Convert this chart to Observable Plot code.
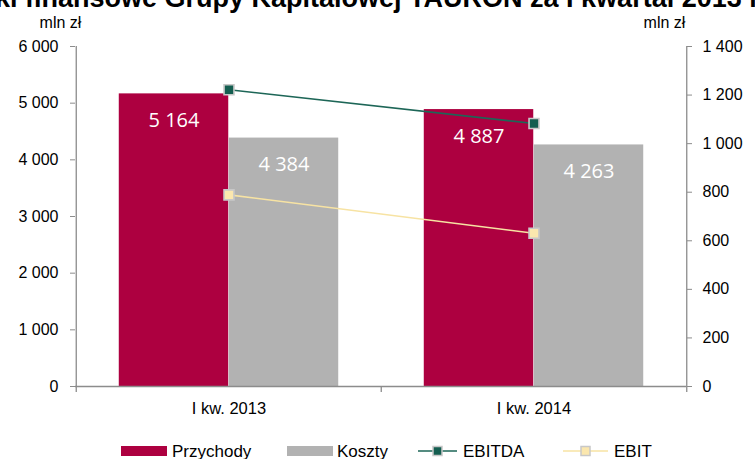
<!DOCTYPE html>
<html><head><meta charset="utf-8">
<script src="https://cdn.jsdelivr.net/npm/d3@7"></script>
<script src="https://cdn.jsdelivr.net/npm/@observablehq/plot@0.6"></script>
<style>
html,body{margin:0;padding:0;background:#fff;width:755px;height:459px;overflow:hidden;}
#wrap{position:relative;width:755px;height:459px;overflow:hidden;font-family:'Liberation Sans',Arial,sans-serif;}
#title{position:absolute;top:-15px;left:0;white-space:nowrap;font:bold 27px 'Liberation Sans',Arial,sans-serif;line-height:27px;color:#000;}
#chart{position:absolute;left:0;top:0;}
.leg{position:absolute;top:443px;font-size:17px;line-height:18px;white-space:nowrap;color:#000;}
.sw{position:absolute;top:446px;height:10px;width:46px;}
.ls{position:absolute;top:444px;}
</style></head><body>
<div id="wrap">
<div id="chart"></div>
<div id="title"><span id="hid">Wyni</span>ki finansowe Grupy Kapitałowej TAURON za I kwartał 2013 i 2014 r.</div>
<div id="legend"></div>
</div>
<script>
// ---- data ----
const categories = ["I kw. 2013", "I kw. 2014"];
const przychody = [5164, 4887];
const koszty = [4384, 4263];
const ebitda = [1222, 1083];
const ebit = [789, 631];
const leftTicks = [0, 1000, 2000, 3000, 4000, 5000, 6000];
const rightTicks = [0, 200, 400, 600, 800, 1000, 1200, 1400];
const seriesNames = ["Przychody", "Koszty", "EBITDA", "EBIT"];
const unitLabel = "mln zł";
const leftMax = 6000, rightMax = 1400;

// ---- styles ----
const C_PRZ = "#ad0040", C_KOS = "#b2b2b2", C_EBITDA = "#145e50", C_EBITDA_LINE = "#1d6657",
      C_EBIT = "#fbe7ae", C_EBIT_LINE = "#f7e3a3", C_MARK_STROKE = "#c8c8c8", C_AXIS = "#8c8c8c";
const W = 755, H = 430, mL = 75, mR = 69, mT = 46, mB = 44;
const FS = 16;
const plotH = H - mT - mB;
const bw = (W - mL - mR) / categories.length;
const barW = bw * 0.36;
const k = leftMax / rightMax;

const locale = d3.formatLocale({decimal: ",", thousands: "\u00a0", grouping: [3], currency: ["", ""]});
const fmt = locale.format(",d");

const rows = categories.map((c, i) => ({c, prz: przychody[i], kos: koszty[i], ebitda: ebitda[i], ebit: ebit[i]}));

const chart = Plot.plot({
  width: W, height: H,
  marginLeft: mL, marginRight: mR, marginTop: mT, marginBottom: mB,
  style: {fontFamily: "'Liberation Sans', Arial, sans-serif", fontSize: FS + "px", color: "#000", background: "#fff"},
  x: {type: "band", domain: categories, padding: 0},
  y: {domain: [0, leftMax]},
  marks: [
    Plot.barY(rows, {x: "c", y: "prz", fill: C_PRZ, insetLeft: bw / 2 - barW, insetRight: bw / 2}),
    Plot.barY(rows, {x: "c", y: "kos", fill: C_KOS, insetLeft: bw / 2, insetRight: bw / 2 - barW}),
    Plot.text(rows, {x: "c", y: "prz", text: d => fmt(d.prz), dx: -barW / 2, dy: 27, fill: "#fff",
      fontFamily: "'Open Sans', sans-serif", fontSize: 20}),
    Plot.text(rows, {x: "c", y: "kos", text: d => fmt(d.kos), dx: barW / 2, dy: 27, fill: "#fff",
      fontFamily: "'Open Sans', sans-serif", fontSize: 20}),
    // axis lines
    Plot.ruleY([0], {stroke: C_AXIS, strokeWidth: 1.3}),
    Plot.ruleX([categories[0]], {dx: -bw / 2, stroke: C_AXIS, strokeWidth: 1.3}),
    Plot.ruleX([categories[categories.length - 1]], {dx: bw / 2, stroke: C_AXIS, strokeWidth: 1.3}),
    Plot.ruleX(categories, {dx: -bw / 2, stroke: C_AXIS, strokeWidth: 1.3, insetTop: plotH, insetBottom: -6}),
    Plot.ruleX([categories[categories.length - 1]], {dx: bw / 2, stroke: C_AXIS, strokeWidth: 1.3, insetTop: plotH, insetBottom: -6}),
    Plot.axisY({anchor: "left", ticks: leftTicks, tickFormat: fmt, tickSize: 5, tickPadding: 12, stroke: C_AXIS, fill: "#000", fontSize: FS, label: null}),
    Plot.axisY({anchor: "right", ticks: rightTicks.map(v => v * k), tickFormat: d => fmt(Math.round(d / k)),
      tickSize: 5, tickPadding: 11, stroke: C_AXIS, fill: "#000", fontSize: FS, label: null}),
    Plot.axisX({anchor: "bottom", tickSize: 0, tickPadding: 16, fill: "#000", fontSize: 16.5, label: null}),
    Plot.text([unitLabel], {frameAnchor: "top-left", text: d => d, textAnchor: "middle", lineAnchor: "middle", dx: -15, dy: -24, fontSize: FS}),
    Plot.text([unitLabel], {frameAnchor: "top-right", text: d => d, textAnchor: "middle", lineAnchor: "middle", dx: -22, dy: -24, fontSize: FS}),
    // lines on secondary axis
    Plot.line(rows, {x: "c", y: d => d.ebitda * k, stroke: C_EBITDA_LINE, strokeWidth: 1.6}),
    Plot.line(rows, {x: "c", y: d => d.ebit * k, stroke: C_EBIT_LINE, strokeWidth: 1.6}),
    Plot.dot(rows, {x: "c", y: d => d.ebitda * k, symbol: "square", r: 5.6, fill: C_EBITDA, stroke: C_MARK_STROKE, strokeWidth: 1.6}),
    Plot.dot(rows, {x: "c", y: d => d.ebit * k, symbol: "square", r: 5.6, fill: C_EBIT, stroke: C_MARK_STROKE, strokeWidth: 1.6})
  ]
});
document.getElementById("chart").appendChild(chart);

// title clipped like the reference
const hid = document.getElementById("hid");
document.getElementById("title").style.left = (-hid.offsetWidth - 5) + "px";

// legend
const leg = document.getElementById("legend");
function add(html) { leg.insertAdjacentHTML("beforeend", html); }
add(`<div class="sw" style="left:121px;background:${C_PRZ}"></div><div class="leg" style="left:172px">${seriesNames[0]}</div>`);
add(`<div class="sw" style="left:287px;background:${C_KOS}"></div><div class="leg" style="left:337px">${seriesNames[1]}</div>`);
function lineSwatch(left, w, stroke, fill) {
  return `<svg class="ls" style="left:${left}px" width="${w}" height="14"><line x1="0" x2="${w}" y1="7" y2="7" stroke="${stroke}" stroke-width="1.6"/><rect x="${w/2-4.5}" y="2.5" width="9" height="9" fill="${fill}" stroke="${C_MARK_STROKE}" stroke-width="1.5"/></svg>`;
}
add(lineSwatch(418, 39, C_EBITDA_LINE, C_EBITDA) + `<div class="leg" style="left:463px">${seriesNames[2]}</div>`);
add(lineSwatch(563, 45, C_EBIT_LINE, C_EBIT) + `<div class="leg" style="left:614px">${seriesNames[3]}</div>`);
</script>
</body></html>
